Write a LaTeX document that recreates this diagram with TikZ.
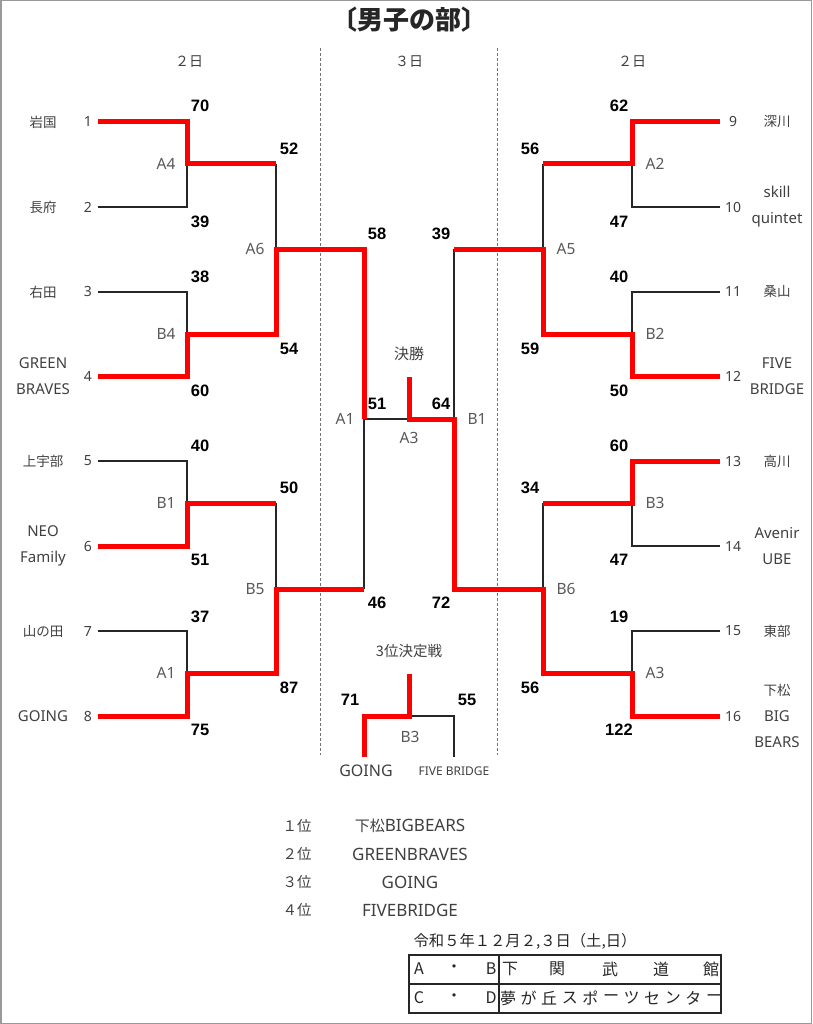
\documentclass[tikz,border=0pt]{standalone}
\usepackage{fontspec}
\setmainfont{Noto Sans}
\newfontfamily\jp{Noto Sans CJK JP}
\newfontfamily\scfont{Liberation Sans}
\begin{document}
\begin{tikzpicture}[x=1pt,y=-1pt,
  win/.style={draw={rgb,255:red,255;green,0;blue,0}, line width=5pt},
  lose/.style={draw=black!85, line width=1.3pt},
  sep/.style={draw=black!55, line width=0.8pt, dash pattern=on 3pt off 2pt},
  tname/.style={text=black!75, font=\fontsize{15}{26}\selectfont, align=center, inner sep=0pt},
  tnamej/.style={text=black!75, font=\fontsize{13.5}{26}\selectfont\jp, align=center, inner sep=0pt},
  tnum/.style={text=black!75, font=\fontsize{14}{16}\selectfont, inner sep=0pt},
  score/.style={text=black, font=\fontsize{16.5}{18}\selectfont\scfont\bfseries, inner sep=0pt},
  mlabel/.style={text=black!65, font=\fontsize{15.5}{17}\selectfont, inner sep=0pt},
  info/.style={text=black!75, font=\fontsize{14}{16}\selectfont\jp, inner sep=0pt},
  rank/.style={text=black!75, font=\fontsize{17}{19}\selectfont, inner sep=0pt},
  tbl/.style={text=black!85, font=\fontsize{16}{18}\selectfont\jp, inner sep=0pt}]
\useasboundingbox (0,0) rectangle (812,1024);
\draw[black!40, line width=1.5pt] (0.75,0.75) rectangle (811.25,1023.25);

% title and headers
\node[font=\fontsize{26}{28}\selectfont\jp\bfseries, text=black!85] (title) at (409,20) {〔男子の部〕};
\node[info] (hd1) at (189,62) {２日};
\node[info] (hd2) at (409,62) {３日};
\node[info] (hd3) at (632,62) {２日};
\draw[sep] (320,48) -- (320,755);
\draw[sep] (497,48) -- (497,755);

% coordinates
\foreach \i/\y in {1/122,2/207,3/292,4/376,5/461,6/546,7/631,8/716}{
  \coordinate (L\i) at (98,\y); \coordinate (LC\i) at (187,\y);
  \coordinate (R\i) at (720,\y); \coordinate (RC\i) at (632,\y);}
\foreach \i/\y in {1/164,2/334,3/503,4/673}{
  \coordinate (LM\i) at (187,\y); \coordinate (LH\i) at (276,\y);
  \coordinate (RM\i) at (632,\y); \coordinate (RH\i) at (543,\y);}
\coordinate (LQ1) at (276,249); \coordinate (LQ2) at (276,589);
\coordinate (LS1) at (364,249); \coordinate (LS2) at (364,589);
\coordinate (RQ1) at (543,249); \coordinate (RQ2) at (543,589);
\coordinate (RS1) at (454,249); \coordinate (RS2) at (454,589);
\coordinate (LF) at (364,419); \coordinate (RF) at (454,419);
\coordinate (FM) at (409,419); \coordinate (FT) at (409,377);
\coordinate (GL) at (364,757); \coordinate (GC) at (364,716);
\coordinate (TM) at (409,716); \coordinate (TT) at (409,674);
\coordinate (GR) at (454,716); \coordinate (GRB) at (454,757);

% losing lines
\draw[lose] (L2) -- (LC2) -- (LM1);
\draw[lose] (L3) -- (LC3) -- (LM2);
\draw[lose] (L5) -- (LC5) -- (LM3);
\draw[lose] (L7) -- (LC7) -- (LM4);
\draw[lose] (LH1) -- (LQ1);
\draw[lose] (LH3) -- (LQ2);
\draw[lose] (LS2) -- (LF) -- (FM);
\draw[lose] (R2) -- (RC2) -- (RM1);
\draw[lose] (R3) -- (RC3) -- (RM2);
\draw[lose] (R6) -- (RC6) -- (RM3);
\draw[lose] (R7) -- (RC7) -- (RM4);
\draw[lose] (RH1) -- (RQ1);
\draw[lose] (RH3) -- (RQ2);
\draw[lose] (RS1) -- (RF);
\draw[lose] (TM) -- (GR) -- (GRB);

% winning lines
\draw[win] (L1) -- (LC1) -- (LM1) -- (LH1);
\draw[win] (L4) -- (LC4) -- (LM2) -- (LH2) -- (LQ1) -- (LS1) -- (LF);
\draw[win] (L6) -- (LC6) -- (LM3) -- (LH3);
\draw[win] (L8) -- (LC8) -- (LM4) -- (LH4) -- (LQ2) -- (LS2);
\draw[win] (R1) -- (RC1) -- (RM1) -- (RH1);
\draw[win] (R4) -- (RC4) -- (RM2) -- (RH2) -- (RQ1) -- (RS1);
\draw[win] (R5) -- (RC5) -- (RM3) -- (RH3);
\draw[win] (R8) -- (RC8) -- (RM4) -- (RH4) -- (RQ2) -- (RS2) -- (RF) -- (FM) -- (FT);
\draw[win] (GL) -- (GC) -- (TM) -- (TT);

% team names and numbers, left
\node[tnamej] (n1) at (43,122) {岩国};
\node[tnamej] (n2) at (43,207) {長府};
\node[tnamej] (n3) at (43,292) {右田};
\node[tname] (n4) at (43,376) {GREEN\\BRAVES};
\node[tnamej] (n5) at (43,461) {上宇部};
\node[tname] (n6) at (43,546) {NEO\\Family};
\node[tnamej] (n7) at (43,631) {山の田};
\node[tname] (n8) at (43,716) {GOING};
\foreach \i/\y in {1/122,2/207,3/292,4/376,5/461,6/546,7/631,8/716}
  \node[tnum] (k\i) at (88,\y) {\i};
% right
\foreach \i/\y in {9/122,10/207,11/292,12/376,13/461,14/546,15/631,16/716}
  \node[tnum] (k\i) at (733,\y) {\i};
\node[tnamej] (n9) at (777,122) {深川};
\node[tname] (n10) at (777,207) {skill\\quintet};
\node[tnamej] (n11) at (777,292) {桑山};
\node[tname] (n12) at (777,376) {FIVE\\BRIDGE};
\node[tnamej] (n13) at (777,461) {高川};
\node[tname] (n14) at (777,546) {Avenir\\UBE};
\node[tnamej] (n15) at (777,631) {東部};
\node[tname] (n16) at (777,716) {{\jp\fontsize{13.5}{26}\selectfont 下松}\\BIG\\BEARS};

% scores
\foreach \x/\y/\s [count=\j] in {200/106/70,200/222/39,200/277/38,200/391/60,200/446/40,200/560/51,200/617/37,200/730/75,
  289/149/52,289/349/54,289/488/50,289/688/87,377/234/58,377/603/46,377/404/51,441/404/64,
  619/106/62,619/222/47,619/277/40,619/391/50,619/446/60,619/560/47,619/617/19,619/730/122,
  530/149/56,530/349/59,530/488/34,530/688/56,441/234/39,441/603/72,350/700/71,467/700/55}
  \node[score] (s\j) at (\x,\y) {\s};

% match labels
\foreach \x/\y/\s [count=\j] in {166/164/A4,166/334/B4,166/503/B1,166/673/A1,255/249/A6,255/589/B5,
  345/419/A1,409/438/A3,477/419/B1,655/164/A2,655/334/B2,655/503/B3,655/673/A3,566/249/A5,566/589/B6,410/737/B3}
  \node[mlabel] (m\j) at (\x,\y) {\s};

\node[info, font=\fontsize{15}{17}\selectfont\jp] (final) at (409,354) {決勝};
\node[info, font=\fontsize{14.5}{17}\selectfont\jp] (third) at (409,651) {3位決定戦};
\node[text=black!75, font=\fontsize{16}{18}\selectfont, inner sep=0pt] (going) at (366,771) {GOING};
\node[text=black!75, font=\fontsize{12}{14}\selectfont, inner sep=0pt] (five) at (454,771) {FIVE BRIDGE};

% rankings
\node[info, font=\fontsize{14.5}{17}\selectfont\jp] (rk1) at (297,826) {１位};
\node[info, font=\fontsize{14.5}{17}\selectfont\jp] (rk2) at (297,854) {２位};
\node[info, font=\fontsize{14.5}{17}\selectfont\jp] (rk3) at (297,882) {３位};
\node[info, font=\fontsize{14.5}{17}\selectfont\jp] (rk4) at (297,910) {４位};
\node[rank] (rn1) at (410,826) {{\jp\fontsize{15}{17}\selectfont 下松}BIGBEARS};
\node[rank] (rn2) at (410,854) {GREENBRAVES};
\node[rank] (rn3) at (410,882) {GOING};
\node[rank] (rn4) at (410,910) {FIVEBRIDGE};
\node[text=black!85, font=\fontsize{15.3}{17}\selectfont\jp, inner sep=0pt] (date) at (525,941) {令和５年１２月２,３日（土,日）};

% table
\draw[black!85, line width=2pt] (409,955) rectangle (721,1013);
\draw[black!85, line width=1.5pt] (409,984) -- (721,984);
\draw[black!85, line width=1.5pt] (499,955) -- (499,1013);
\node[tbl] (ta) at (419,969) {A};
\node[tbl] (tb1) at (454,969) {・};
\node[tbl] (tb) at (491,969) {B};
\foreach \c/\x [count=\j] in {下/510,関/557,武/610,道/661,館/711}
  \node[tbl] (v\j) at (\x,969) {\c};
\node[tbl] (tc) at (419,998) {C};
\node[tbl] (td1) at (454,998) {・};
\node[tbl] (td) at (491,998) {D};
\foreach \c [count=\j] in {夢,が,丘,ス,ポ,ー,ツ,セ,ン,タ,ー}
  \node[tbl] (w\j) at ({508+(\j-1)*20.6},998) {\c};
\end{tikzpicture}
\end{document}
